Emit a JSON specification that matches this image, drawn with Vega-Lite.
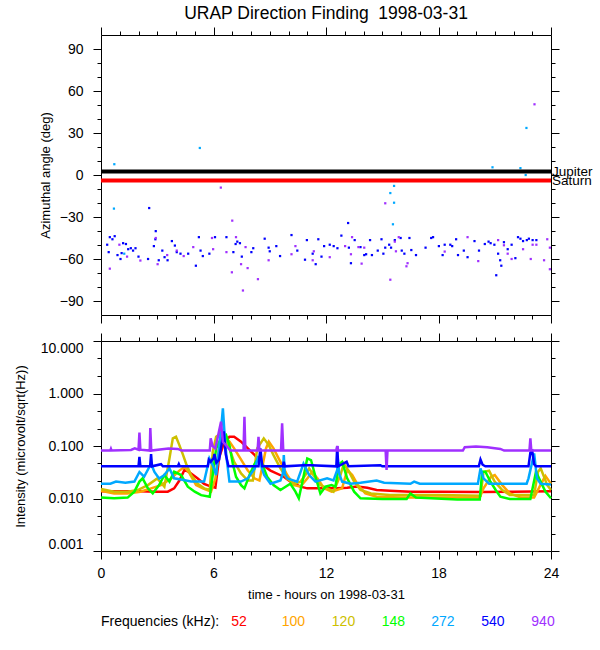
{
  "$schema": "https://vega.github.io/schema/vega-lite/v6.json",
  "padding": {"left": 14, "top": 5, "right": 5, "bottom": 5},
  "spacing": 8,
  "datasets": {
    "angles": [
      {"t":0.33,"a":-49.8,"f":"540"},{"t":0.41,"a":-55.1,"f":"540"},{"t":0.47,"a":-44.4,"f":"540"},{"t":0.61,"a":-45.9,"f":"540"},{"t":0.73,"a":-43.7,"f":"540"},{"t":0.88,"a":-57.2,"f":"540"},{"t":1.04,"a":-60.0,"f":"540"},{"t":1.10,"a":-55.8,"f":"540"},{"t":1.18,"a":-48.7,"f":"540"},{"t":1.33,"a":-49.3,"f":"540"},{"t":1.45,"a":-53.0,"f":"540"},{"t":1.59,"a":-52.3,"f":"540"},{"t":1.71,"a":-54.0,"f":"540"},{"t":1.84,"a":-52.3,"f":"540"},{"t":2.0,"a":-58.3,"f":"540"},{"t":2.51,"a":-60.0,"f":"540"},{"t":2.57,"a":-23.6,"f":"540"},{"t":2.82,"a":-50.8,"f":"540"},{"t":2.90,"a":-45.9,"f":"540"},{"t":2.92,"a":-40.1,"f":"540"},{"t":3.08,"a":-60.9,"f":"540"},{"t":3.27,"a":-54.0,"f":"540"},{"t":3.39,"a":-58.7,"f":"540"},{"t":3.55,"a":-60.9,"f":"540"},{"t":3.78,"a":-47.2,"f":"540"},{"t":3.94,"a":-50.4,"f":"540"},{"t":4.04,"a":-55.1,"f":"540"},{"t":4.24,"a":-56.2,"f":"540"},{"t":4.65,"a":-56.2,"f":"540"},{"t":5.06,"a":-64.8,"f":"540"},{"t":5.22,"a":-44.4,"f":"540"},{"t":5.31,"a":-54.0,"f":"540"},{"t":5.43,"a":-57.9,"f":"540"},{"t":5.78,"a":-56.2,"f":"540"},{"t":6.08,"a":-44.4,"f":"540"},{"t":6.69,"a":-44.4,"f":"540"},{"t":7.06,"a":-55.1,"f":"540"},{"t":7.18,"a":-49.3,"f":"540"},{"t":7.27,"a":-47.6,"f":"540"},{"t":7.41,"a":-48.7,"f":"540"},{"t":7.51,"a":-58.3,"f":"540"},{"t":8.02,"a":-55.1,"f":"540"},{"t":8.12,"a":-52.3,"f":"540"},{"t":8.73,"a":-45.5,"f":"540"},{"t":8.94,"a":-51.9,"f":"540"},{"t":9.0,"a":-54.5,"f":"540"},{"t":9.35,"a":-50.8,"f":"540"},{"t":9.55,"a":-57.9,"f":"540"},{"t":10.16,"a":-42.9,"f":"540"},{"t":10.47,"a":-54.0,"f":"540"},{"t":10.88,"a":-60.5,"f":"540"},{"t":10.98,"a":-46.5,"f":"540"},{"t":11.29,"a":-56.2,"f":"540"},{"t":11.45,"a":-63.7,"f":"540"},{"t":11.59,"a":-45.9,"f":"540"},{"t":11.76,"a":-58.3,"f":"540"},{"t":11.9,"a":-50.8,"f":"540"},{"t":12.2,"a":-49.8,"f":"540"},{"t":12.41,"a":-50.8,"f":"540"},{"t":12.61,"a":-52.3,"f":"540"},{"t":12.82,"a":-43.3,"f":"540"},{"t":13.18,"a":-34.3,"f":"540"},{"t":13.22,"a":-51.9,"f":"540"},{"t":13.33,"a":-63.0,"f":"540"},{"t":13.53,"a":-46.5,"f":"540"},{"t":13.84,"a":-51.5,"f":"540"},{"t":14.04,"a":-57.2,"f":"540"},{"t":14.14,"a":-56.6,"f":"540"},{"t":14.35,"a":-46.5,"f":"540"},{"t":14.45,"a":-57.2,"f":"540"},{"t":14.76,"a":-54.0,"f":"540"},{"t":14.96,"a":-45.9,"f":"540"},{"t":15.06,"a":-56.2,"f":"540"},{"t":15.16,"a":-51.9,"f":"540"},{"t":15.37,"a":-49.8,"f":"540"},{"t":15.47,"a":-51.9,"f":"540"},{"t":15.67,"a":-46.5,"f":"540"},{"t":15.98,"a":-45.0,"f":"540"},{"t":16.04,"a":-54.0,"f":"540"},{"t":16.18,"a":-56.2,"f":"540"},{"t":16.45,"a":-45.0,"f":"540"},{"t":16.55,"a":-53.6,"f":"540"},{"t":16.8,"a":-57.2,"f":"540"},{"t":17.31,"a":-51.9,"f":"540"},{"t":17.61,"a":-45.0,"f":"540"},{"t":17.71,"a":-44.4,"f":"540"},{"t":18.02,"a":-50.8,"f":"540"},{"t":18.22,"a":-57.2,"f":"540"},{"t":18.33,"a":-49.8,"f":"540"},{"t":18.63,"a":-49.8,"f":"540"},{"t":18.73,"a":-50.8,"f":"540"},{"t":18.94,"a":-45.9,"f":"540"},{"t":19.04,"a":-57.2,"f":"540"},{"t":19.35,"a":-54.0,"f":"540"},{"t":19.55,"a":-58.7,"f":"540"},{"t":19.92,"a":-47.2,"f":"540"},{"t":20.16,"a":-54.0,"f":"540"},{"t":20.47,"a":-49.3,"f":"540"},{"t":20.67,"a":-47.6,"f":"540"},{"t":20.78,"a":-48.7,"f":"540"},{"t":20.98,"a":-49.8,"f":"540"},{"t":21.08,"a":-71.6,"f":"540"},{"t":21.18,"a":-56.2,"f":"540"},{"t":21.29,"a":-60.9,"f":"540"},{"t":21.35,"a":-64.8,"f":"540"},{"t":21.49,"a":-48.0,"f":"540"},{"t":21.69,"a":-53.0,"f":"540"},{"t":21.9,"a":-49.8,"f":"540"},{"t":22.1,"a":-59.4,"f":"540"},{"t":22.24,"a":-44.4,"f":"540"},{"t":22.37,"a":-45.5,"f":"540"},{"t":22.51,"a":-47.2,"f":"540"},{"t":22.71,"a":-46.5,"f":"540"},{"t":22.82,"a":-45.5,"f":"540"},{"t":23.02,"a":-46.5,"f":"540"},{"t":23.22,"a":-46.5,"f":"540"},
      {"t":0.47,"a":-66.9,"f":"940"},{"t":0.98,"a":-49.8,"f":"940"},{"t":1.39,"a":-58.3,"f":"940"},{"t":2.1,"a":-61.1,"f":"940"},{"t":2.92,"a":-45.0,"f":"940"},{"t":3.02,"a":-63.7,"f":"940"},{"t":3.53,"a":-57.2,"f":"940"},{"t":4.04,"a":-54.0,"f":"940"},{"t":4.41,"a":-57.9,"f":"940"},{"t":4.92,"a":-51.5,"f":"940"},{"t":5.92,"a":-45.0,"f":"940"},{"t":5.98,"a":-53.0,"f":"940"},{"t":6.39,"a":-9.0,"f":"940"},{"t":6.69,"a":-55.1,"f":"940"},{"t":7.0,"a":-32.6,"f":"940"},{"t":6.98,"a":-69.5,"f":"940"},{"t":7.2,"a":-44.4,"f":"940"},{"t":7.47,"a":-63.7,"f":"940"},{"t":7.57,"a":-82.5,"f":"940"},{"t":7.71,"a":-51.5,"f":"940"},{"t":7.82,"a":-66.5,"f":"940"},{"t":8.37,"a":-74.4,"f":"940"},{"t":8.94,"a":-60.9,"f":"940"},{"t":10.16,"a":-56.6,"f":"940"},{"t":10.37,"a":-50.8,"f":"940"},{"t":11.29,"a":-60.9,"f":"940"},{"t":11.35,"a":-54.5,"f":"940"},{"t":12.2,"a":-58.7,"f":"940"},{"t":13.02,"a":-50.8,"f":"940"},{"t":13.33,"a":-56.6,"f":"940"},{"t":13.39,"a":-44.4,"f":"940"},{"t":13.73,"a":-51.5,"f":"940"},{"t":13.9,"a":-63.3,"f":"940"},{"t":14.04,"a":-51.9,"f":"940"},{"t":15.16,"a":-20.2,"f":"940"},{"t":15.43,"a":-74.8,"f":"940"},{"t":15.67,"a":-47.6,"f":"940"},{"t":15.73,"a":-54.5,"f":"940"},{"t":15.88,"a":-44.4,"f":"940"},{"t":16.29,"a":-65.2,"f":"940"},{"t":16.35,"a":-63.0,"f":"940"},{"t":18.33,"a":-54.7,"f":"940"},{"t":19.55,"a":-44.4,"f":"940"},{"t":20.12,"a":-61.5,"f":"940"},{"t":21.18,"a":-46.5,"f":"940"},{"t":21.49,"a":-50.2,"f":"940"},{"t":21.69,"a":-56.2,"f":"940"},{"t":21.9,"a":-60.0,"f":"940"},{"t":22.51,"a":-53.0,"f":"940"},{"t":22.92,"a":-60.0,"f":"940"},{"t":23.12,"a":50.5,"f":"940"},{"t":23.02,"a":-49.8,"f":"940"},{"t":23.22,"a":-49.8,"f":"940"},{"t":23.63,"a":-60.9,"f":"940"},{"t":23.8,"a":-45.9,"f":"940"},{"t":23.94,"a":-67.3,"f":"940"},{"t":23.94,"a":-51.9,"f":"940"},
      {"t":0.71,"a":7.7,"f":"272"},{"t":0.69,"a":-24.0,"f":"272"},{"t":1.24,"a":-56.2,"f":"272"},{"t":5.27,"a":19.3,"f":"272"},{"t":15.43,"a":-12.9,"f":"272"},{"t":15.63,"a":-7.8,"f":"272"},{"t":15.63,"a":-19.8,"f":"272"},{"t":15.57,"a":-35.2,"f":"272"},{"t":20.88,"a":5.5,"f":"272"},{"t":22.37,"a":4.9,"f":"272"},{"t":22.65,"a":0.0,"f":"272"},{"t":22.69,"a":33.6,"f":"272"}
    ],
    "planets": [
      {"planet": "Jupiter", "angle": 2.5, "c": "black"},
      {"planet": "Saturn", "angle": -4, "c": "red"}
    ],
    "flux": [
      {"t":0,"v":0.0138,"f":"52"},{"t":1,"v":0.0138,"f":"52"},{"t":2,"v":0.0137,"f":"52"},{"t":3,"v":0.0135,"f":"52"},{"t":3.56,"v":0.0135,"f":"52"},{"t":3.9,"v":0.0156,"f":"52"},{"t":4.18,"v":0.022,"f":"52"},{"t":4.45,"v":0.035,"f":"52"},{"t":4.7,"v":0.032,"f":"52"},{"t":5.16,"v":0.024,"f":"52"},{"t":5.5,"v":0.019,"f":"52"},{"t":5.87,"v":0.0168,"f":"52"},{"t":6.1,"v":0.016,"f":"52"},{"t":6.3,"v":0.06,"f":"52"},{"t":6.58,"v":0.12,"f":"52"},{"t":6.85,"v":0.15,"f":"52"},{"t":7.1,"v":0.15,"f":"52"},{"t":7.47,"v":0.121,"f":"52"},{"t":7.83,"v":0.09,"f":"52"},{"t":8.2,"v":0.067,"f":"52"},{"t":8.5,"v":0.047,"f":"52"},{"t":9.04,"v":0.034,"f":"52"},{"t":9.75,"v":0.026,"f":"52"},{"t":10.1,"v":0.021,"f":"52"},{"t":10.64,"v":0.0168,"f":"52"},{"t":11,"v":0.0156,"f":"52"},{"t":12,"v":0.0156,"f":"52"},{"t":12.6,"v":0.0156,"f":"52"},{"t":13.13,"v":0.016,"f":"52"},{"t":13.66,"v":0.017,"f":"52"},{"t":14.2,"v":0.016,"f":"52"},{"t":14.7,"v":0.0145,"f":"52"},{"t":15.4,"v":0.014,"f":"52"},{"t":16.5,"v":0.0135,"f":"52"},{"t":18,"v":0.0135,"f":"52"},{"t":20.24,"v":0.0133,"f":"52"},{"t":22,"v":0.0135,"f":"52"},{"t":24,"v":0.0138,"f":"52"},
      {"t":0,"v":0.014,"f":"100"},{"t":0.7,"v":0.0125,"f":"100"},{"t":1.4,"v":0.0125,"f":"100"},{"t":2.1,"v":0.0135,"f":"100"},{"t":2.67,"v":0.0156,"f":"100"},{"t":3.2,"v":0.018,"f":"100"},{"t":3.74,"v":0.024,"f":"100"},{"t":4.18,"v":0.034,"f":"100"},{"t":4.45,"v":0.04,"f":"100"},{"t":4.7,"v":0.031,"f":"100"},{"t":5.07,"v":0.018,"f":"100"},{"t":5.43,"v":0.0156,"f":"100"},{"t":5.87,"v":0.0135,"f":"100"},{"t":6.1,"v":0.024,"f":"100"},{"t":6.32,"v":0.11,"f":"100"},{"t":6.58,"v":0.15,"f":"100"},{"t":6.85,"v":0.121,"f":"100"},{"t":7.1,"v":0.09,"f":"100"},{"t":7.47,"v":0.055,"f":"100"},{"t":7.83,"v":0.034,"f":"100"},{"t":8.2,"v":0.024,"f":"100"},{"t":8.45,"v":0.022,"f":"100"},{"t":8.6,"v":0.04,"f":"100"},{"t":8.8,"v":0.09,"f":"100"},{"t":8.95,"v":0.121,"f":"100"},{"t":9.2,"v":0.09,"f":"100"},{"t":9.57,"v":0.05,"f":"100"},{"t":9.93,"v":0.028,"f":"100"},{"t":10.3,"v":0.018,"f":"100"},{"t":10.64,"v":0.0168,"f":"100"},{"t":11,"v":0.024,"f":"100"},{"t":11.26,"v":0.032,"f":"100"},{"t":11.55,"v":0.024,"f":"100"},{"t":11.9,"v":0.0156,"f":"100"},{"t":12.3,"v":0.0135,"f":"100"},{"t":12.86,"v":0.0156,"f":"100"},{"t":13.13,"v":0.035,"f":"100"},{"t":13.4,"v":0.028,"f":"100"},{"t":13.7,"v":0.018,"f":"100"},{"t":14.1,"v":0.0125,"f":"100"},{"t":14.7,"v":0.0108,"f":"100"},{"t":16,"v":0.0104,"f":"100"},{"t":18,"v":0.0104,"f":"100"},{"t":20.2,"v":0.0104,"f":"100"},{"t":20.4,"v":0.0156,"f":"100"},{"t":20.8,"v":0.026,"f":"100"},{"t":21,"v":0.028,"f":"100"},{"t":21.4,"v":0.018,"f":"100"},{"t":21.8,"v":0.0125,"f":"100"},{"t":22.4,"v":0.0104,"f":"100"},{"t":23.1,"v":0.0104,"f":"100"},{"t":23.4,"v":0.017,"f":"100"},{"t":23.7,"v":0.027,"f":"100"},{"t":24,"v":0.019,"f":"100"},
      {"t":0,"v":0.0152,"f":"120"},{"t":0.7,"v":0.0135,"f":"120"},{"t":1.42,"v":0.0135,"f":"120"},{"t":1.96,"v":0.0145,"f":"120"},{"t":2.5,"v":0.018,"f":"120"},{"t":3.0,"v":0.024,"f":"120"},{"t":3.38,"v":0.0168,"f":"120"},{"t":3.65,"v":0.058,"f":"120"},{"t":3.83,"v":0.14,"f":"120"},{"t":4.0,"v":0.15,"f":"120"},{"t":4.18,"v":0.104,"f":"120"},{"t":4.36,"v":0.07,"f":"120"},{"t":4.54,"v":0.046,"f":"120"},{"t":4.8,"v":0.028,"f":"120"},{"t":5.16,"v":0.019,"f":"120"},{"t":5.5,"v":0.0156,"f":"120"},{"t":5.8,"v":0.0145,"f":"120"},{"t":5.96,"v":0.078,"f":"120"},{"t":6.14,"v":0.15,"f":"120"},{"t":6.4,"v":0.175,"f":"120"},{"t":6.58,"v":0.14,"f":"120"},{"t":6.85,"v":0.09,"f":"120"},{"t":7.1,"v":0.05,"f":"120"},{"t":7.47,"v":0.03,"f":"120"},{"t":7.83,"v":0.022,"f":"120"},{"t":8.1,"v":0.022,"f":"120"},{"t":8.33,"v":0.09,"f":"120"},{"t":8.68,"v":0.14,"f":"120"},{"t":8.95,"v":0.104,"f":"120"},{"t":9.2,"v":0.067,"f":"120"},{"t":9.57,"v":0.0375,"f":"120"},{"t":9.93,"v":0.024,"f":"120"},{"t":10.3,"v":0.019,"f":"120"},{"t":10.64,"v":0.0209,"f":"120"},{"t":10.9,"v":0.028,"f":"120"},{"t":11.1,"v":0.0375,"f":"120"},{"t":11.35,"v":0.027,"f":"120"},{"t":11.7,"v":0.018,"f":"120"},{"t":12.06,"v":0.0156,"f":"120"},{"t":12.4,"v":0.0135,"f":"120"},{"t":12.77,"v":0.028,"f":"120"},{"t":12.95,"v":0.046,"f":"120"},{"t":13.2,"v":0.034,"f":"120"},{"t":13.5,"v":0.0209,"f":"120"},{"t":13.84,"v":0.0145,"f":"120"},{"t":14.4,"v":0.0125,"f":"120"},{"t":15.4,"v":0.0116,"f":"120"},{"t":18,"v":0.0116,"f":"120"},{"t":20.24,"v":0.0113,"f":"120"},{"t":20.4,"v":0.032,"f":"120"},{"t":20.7,"v":0.034,"f":"120"},{"t":21,"v":0.0209,"f":"120"},{"t":21.4,"v":0.0145,"f":"120"},{"t":21.8,"v":0.0116,"f":"120"},{"t":23.1,"v":0.0116,"f":"120"},{"t":23.3,"v":0.032,"f":"120"},{"t":23.45,"v":0.0375,"f":"120"},{"t":23.8,"v":0.018,"f":"120"},{"t":24,"v":0.0145,"f":"120"},
      {"t":0,"v":0.0104,"f":"148"},{"t":0.7,"v":0.0101,"f":"148"},{"t":1.42,"v":0.0104,"f":"148"},{"t":1.78,"v":0.0135,"f":"148"},{"t":2.05,"v":0.021,"f":"148"},{"t":2.22,"v":0.0242,"f":"148"},{"t":2.5,"v":0.0156,"f":"148"},{"t":2.76,"v":0.0125,"f":"148"},{"t":3.1,"v":0.018,"f":"148"},{"t":3.38,"v":0.028,"f":"148"},{"t":3.65,"v":0.021,"f":"148"},{"t":3.9,"v":0.0324,"f":"148"},{"t":4.27,"v":0.028,"f":"148"},{"t":4.63,"v":0.0168,"f":"148"},{"t":5.0,"v":0.0135,"f":"148"},{"t":5.34,"v":0.0116,"f":"148"},{"t":5.8,"v":0.0108,"f":"148"},{"t":5.96,"v":0.028,"f":"148"},{"t":6.14,"v":0.09,"f":"148"},{"t":6.4,"v":0.14,"f":"148"},{"t":6.67,"v":0.162,"f":"148"},{"t":6.85,"v":0.104,"f":"148"},{"t":7.03,"v":0.046,"f":"148"},{"t":7.2,"v":0.026,"f":"148"},{"t":7.47,"v":0.018,"f":"148"},{"t":7.65,"v":0.0156,"f":"148"},{"t":7.92,"v":0.028,"f":"148"},{"t":8.2,"v":0.046,"f":"148"},{"t":8.45,"v":0.062,"f":"148"},{"t":8.6,"v":0.045,"f":"148"},{"t":8.86,"v":0.026,"f":"148"},{"t":9.2,"v":0.018,"f":"148"},{"t":9.57,"v":0.0145,"f":"148"},{"t":10.1,"v":0.0191,"f":"148"},{"t":10.37,"v":0.0135,"f":"148"},{"t":10.55,"v":0.0101,"f":"148"},{"t":10.8,"v":0.026,"f":"148"},{"t":11.0,"v":0.058,"f":"148"},{"t":11.2,"v":0.054,"f":"148"},{"t":11.44,"v":0.026,"f":"148"},{"t":11.7,"v":0.0125,"f":"148"},{"t":11.97,"v":0.0168,"f":"148"},{"t":12.3,"v":0.018,"f":"148"},{"t":12.5,"v":0.0168,"f":"148"},{"t":12.7,"v":0.045,"f":"148"},{"t":12.86,"v":0.05,"f":"148"},{"t":13.13,"v":0.0242,"f":"148"},{"t":13.5,"v":0.0135,"f":"148"},{"t":13.84,"v":0.0101,"f":"148"},{"t":15,"v":0.0098,"f":"148"},{"t":16.3,"v":0.0098,"f":"148"},{"t":16.5,"v":0.0125,"f":"148"},{"t":16.8,"v":0.0104,"f":"148"},{"t":17.6,"v":0.0101,"f":"148"},{"t":19,"v":0.0096,"f":"148"},{"t":20.2,"v":0.0096,"f":"148"},{"t":20.33,"v":0.0324,"f":"148"},{"t":20.5,"v":0.0324,"f":"148"},{"t":20.77,"v":0.0209,"f":"148"},{"t":21.05,"v":0.0145,"f":"148"},{"t":21.3,"v":0.0108,"f":"148"},{"t":21.8,"v":0.0098,"f":"148"},{"t":22.9,"v":0.0098,"f":"148"},{"t":23.2,"v":0.0324,"f":"148"},{"t":23.45,"v":0.0209,"f":"148"},{"t":23.7,"v":0.0135,"f":"148"},{"t":24,"v":0.0101,"f":"148"},
      {"t":0,"v":0.0191,"f":"272"},{"t":0.5,"v":0.0191,"f":"272"},{"t":0.8,"v":0.021,"f":"272"},{"t":1.3,"v":0.02,"f":"272"},{"t":1.78,"v":0.021,"f":"272"},{"t":2.05,"v":0.032,"f":"272"},{"t":2.3,"v":0.026,"f":"272"},{"t":2.67,"v":0.046,"f":"272"},{"t":2.85,"v":0.032,"f":"272"},{"t":3.1,"v":0.024,"f":"272"},{"t":3.38,"v":0.028,"f":"272"},{"t":3.65,"v":0.0375,"f":"272"},{"t":3.9,"v":0.0242,"f":"272"},{"t":4.27,"v":0.023,"f":"272"},{"t":4.8,"v":0.021,"f":"272"},{"t":5.5,"v":0.021,"f":"272"},{"t":5.78,"v":0.058,"f":"272"},{"t":6.0,"v":0.04,"f":"272"},{"t":6.14,"v":0.028,"f":"272"},{"t":6.4,"v":0.2,"f":"272"},{"t":6.5,"v":0.52,"f":"272"},{"t":6.6,"v":0.15,"f":"272"},{"t":6.7,"v":0.058,"f":"272"},{"t":6.85,"v":0.021,"f":"272"},{"t":7.47,"v":0.021,"f":"272"},{"t":7.83,"v":0.0242,"f":"272"},{"t":8.2,"v":0.0375,"f":"272"},{"t":8.36,"v":0.058,"f":"272"},{"t":8.5,"v":0.046,"f":"272"},{"t":8.7,"v":0.028,"f":"272"},{"t":9.04,"v":0.0191,"f":"272"},{"t":9.57,"v":0.022,"f":"272"},{"t":9.7,"v":0.03,"f":"272"},{"t":9.75,"v":0.067,"f":"272"},{"t":9.8,"v":0.03,"f":"272"},{"t":9.93,"v":0.0242,"f":"272"},{"t":10.46,"v":0.0209,"f":"272"},{"t":10.8,"v":0.046,"f":"272"},{"t":11.1,"v":0.028,"f":"272"},{"t":11.44,"v":0.0209,"f":"272"},{"t":12.06,"v":0.0242,"f":"272"},{"t":12.4,"v":0.022,"f":"272"},{"t":12.6,"v":0.035,"f":"272"},{"t":12.63,"v":0.058,"f":"272"},{"t":12.7,"v":0.03,"f":"272"},{"t":12.86,"v":0.021,"f":"272"},{"t":13.3,"v":0.0191,"f":"272"},{"t":13.84,"v":0.02,"f":"272"},{"t":14.7,"v":0.022,"f":"272"},{"t":15.1,"v":0.02,"f":"272"},{"t":16.5,"v":0.0191,"f":"272"},{"t":16.7,"v":0.021,"f":"272"},{"t":17,"v":0.0191,"f":"272"},{"t":20.1,"v":0.0191,"f":"272"},{"t":20.24,"v":0.0375,"f":"272"},{"t":20.4,"v":0.0242,"f":"272"},{"t":20.7,"v":0.0191,"f":"272"},{"t":22.7,"v":0.0191,"f":"272"},{"t":22.8,"v":0.0242,"f":"272"},{"t":23.1,"v":0.072,"f":"272"},{"t":23.25,"v":0.0242,"f":"272"},{"t":23.45,"v":0.0191,"f":"272"},{"t":24,"v":0.0185,"f":"272"},
      {"t":0,"v":0.041,"f":"540"},{"t":2.0,"v":0.041,"f":"540"},{"t":2.05,"v":0.062,"f":"540"},{"t":2.1,"v":0.041,"f":"540"},{"t":2.62,"v":0.041,"f":"540"},{"t":2.67,"v":0.07,"f":"540"},{"t":2.72,"v":0.041,"f":"540"},{"t":3.2,"v":0.045,"f":"540"},{"t":3.3,"v":0.041,"f":"540"},{"t":4.1,"v":0.041,"f":"540"},{"t":4.15,"v":0.045,"f":"540"},{"t":4.2,"v":0.041,"f":"540"},{"t":5.7,"v":0.041,"f":"540"},{"t":5.75,"v":0.055,"f":"540"},{"t":5.85,"v":0.05,"f":"540"},{"t":6.0,"v":0.058,"f":"540"},{"t":6.05,"v":0.07,"f":"540"},{"t":6.15,"v":0.048,"f":"540"},{"t":6.3,"v":0.055,"f":"540"},{"t":6.45,"v":0.12,"f":"540"},{"t":6.55,"v":0.19,"f":"540"},{"t":6.65,"v":0.07,"f":"540"},{"t":6.8,"v":0.041,"f":"540"},{"t":8.4,"v":0.041,"f":"540"},{"t":8.5,"v":0.09,"f":"540"},{"t":8.6,"v":0.041,"f":"540"},{"t":9.7,"v":0.041,"f":"540"},{"t":9.75,"v":0.05,"f":"540"},{"t":9.8,"v":0.041,"f":"540"},{"t":10.8,"v":0.043,"f":"540"},{"t":11.2,"v":0.043,"f":"540"},{"t":12.55,"v":0.041,"f":"540"},{"t":12.6,"v":0.1,"f":"540"},{"t":12.65,"v":0.041,"f":"540"},{"t":13.1,"v":0.05,"f":"540"},{"t":13.2,"v":0.041,"f":"540"},{"t":14.9,"v":0.043,"f":"540"},{"t":15.0,"v":0.041,"f":"540"},{"t":20.15,"v":0.041,"f":"540"},{"t":20.24,"v":0.055,"f":"540"},{"t":20.35,"v":0.044,"f":"540"},{"t":20.5,"v":0.041,"f":"540"},{"t":22.8,"v":0.041,"f":"540"},{"t":22.9,"v":0.075,"f":"540"},{"t":23.0,"v":0.08,"f":"540"},{"t":23.1,"v":0.045,"f":"540"},{"t":23.2,"v":0.041,"f":"540"},{"t":24,"v":0.041,"f":"540"},
      {"t":0,"v":0.082,"f":"940"},{"t":0.5,"v":0.082,"f":"940"},{"t":0.53,"v":0.088,"f":"940"},{"t":0.56,"v":0.082,"f":"940"},{"t":1.6,"v":0.084,"f":"940"},{"t":1.8,"v":0.09,"f":"940"},{"t":2.0,"v":0.085,"f":"940"},{"t":2.05,"v":0.18,"f":"940"},{"t":2.1,"v":0.085,"f":"940"},{"t":2.6,"v":0.082,"f":"940"},{"t":2.63,"v":0.22,"f":"940"},{"t":2.68,"v":0.082,"f":"940"},{"t":3.6,"v":0.09,"f":"940"},{"t":4.1,"v":0.088,"f":"940"},{"t":4.3,"v":0.082,"f":"940"},{"t":5.8,"v":0.082,"f":"940"},{"t":5.85,"v":0.14,"f":"940"},{"t":5.95,"v":0.1,"f":"940"},{"t":6.1,"v":0.09,"f":"940"},{"t":6.4,"v":0.29,"f":"940"},{"t":6.5,"v":0.12,"f":"940"},{"t":6.7,"v":0.1,"f":"940"},{"t":6.9,"v":0.082,"f":"940"},{"t":7.6,"v":0.082,"f":"940"},{"t":7.65,"v":0.36,"f":"940"},{"t":7.7,"v":0.082,"f":"940"},{"t":8.35,"v":0.082,"f":"940"},{"t":8.4,"v":0.15,"f":"940"},{"t":8.45,"v":0.082,"f":"940"},{"t":9.6,"v":0.082,"f":"940"},{"t":9.66,"v":0.27,"f":"940"},{"t":9.72,"v":0.082,"f":"940"},{"t":12.55,"v":0.082,"f":"940"},{"t":12.6,"v":0.1,"f":"940"},{"t":12.65,"v":0.082,"f":"940"},{"t":15.18,"v":0.082,"f":"940"},{"t":15.23,"v":0.035,"f":"940"},{"t":15.28,"v":0.082,"f":"940"},{"t":19.3,"v":0.082,"f":"940"},{"t":19.4,"v":0.095,"f":"940"},{"t":20.0,"v":0.098,"f":"940"},{"t":20.6,"v":0.095,"f":"940"},{"t":21.3,"v":0.088,"f":"940"},{"t":21.5,"v":0.082,"f":"940"},{"t":22.85,"v":0.082,"f":"940"},{"t":22.9,"v":0.14,"f":"940"},{"t":22.95,"v":0.082,"f":"940"},{"t":24,"v":0.082,"f":"940"}
    ],
    "legend": [
      {"label": "52", "pos": 6.94, "f": "52"},
      {"label": "100", "pos": 9.64, "f": "100"},
      {"label": "120", "pos": 12.31, "f": "120"},
      {"label": "148", "pos": 14.97, "f": "148"},
      {"label": "272", "pos": 17.61, "f": "272"},
      {"label": "540", "pos": 20.28, "f": "540"},
      {"label": "940", "pos": 22.95, "f": "940"}
    ]
  },
  "vconcat": [
    {
      "width": 450,
      "height": 280,
      "title": {"text": "URAP Direction Finding \u00a01998-03-31", "frame": "group", "anchor": "middle", "fontSize": 17.5, "font": "Liberation Sans", "fontWeight": "normal", "color": "black", "offset": 4},
      "layer": [
        {
          "data": {"name": "angles"},
          "mark": {"type": "square", "size": 5, "opacity": 1},
          "encoding": {
            "x": {"field": "t", "type": "quantitative", "scale": {"domain": [0, 24]},
              "axis": {"orient": "bottom", "title": null, "labels": false, "values": [0,1,2,3,4,5,6,7,8,9,10,11,12,13,14,15,16,17,18,19,20,21,22,23,24],
                "tickSize": {"condition": {"test": "datum.value % 6 === 0", "value": 8}, "value": 4}}},
            "y": {"field": "a", "type": "quantitative", "scale": {"domain": [-90, 90]},
              "axis": {"orient": "left", "title": "Azimuthal angle (deg)", "titlePadding": 7, "values": [-90,-80,-70,-60,-50,-40,-30,-20,-10,0,10,20,30,40,50,60,70,80,90],
                "labelExpr": "datum.value % 30 === 0 ? datum.label : ''", "labelFlush": true,
                "tickSize": {"condition": {"test": "datum.value % 30 === 0", "value": 8}, "value": 4}}},
            "color": {"field": "f", "type": "nominal", "legend": null,
              "scale": {"domain": ["52","100","120","148","272","540","940"], "range": ["#ff0000","#ffa500","#cdc000","#00ff00","#00a8ff","#0000ff","#a030ff"]}}
          }
        },
        {
          "data": {"name": "planets"},
          "mark": {"type": "rule", "strokeWidth": 4},
          "encoding": {
            "x": {"datum": 0, "type": "quantitative", "scale": {"domain": [0, 24]},
              "axis": {"orient": "top", "title": null, "labels": false, "values": [0,1,2,3,4,5,6,7,8,9,10,11,12,13,14,15,16,17,18,19,20,21,22,23,24],
                "tickSize": {"condition": {"test": "datum.value % 6 === 0", "value": 8}, "value": 4}}},
            "x2": {"datum": 24},
            "y": {"field": "angle", "type": "quantitative", "scale": {"domain": [-90, 90]},
              "axis": {"orient": "right", "title": null, "labels": false, "values": [-90,-80,-70,-60,-50,-40,-30,-20,-10,0,10,20,30,40,50,60,70,80,90],
                "tickSize": {"condition": {"test": "datum.value % 30 === 0", "value": 8}, "value": 4}}},
            "stroke": {"field": "c", "type": "nominal", "scale": null}
          }
        },
        {
          "data": {"name": "planets"},
          "mark": {"type": "text", "align": "left", "baseline": "middle", "dx": 1, "fontSize": 13.5, "font": "Liberation Sans", "color": "black"},
          "encoding": {
            "x": {"datum": 24, "type": "quantitative", "axis": null},
            "y": {"field": "angle", "type": "quantitative", "axis": null},
            "text": {"field": "planet"}
          }
        }
      ],
      "resolve": {"axis": {"x": "independent", "y": "independent"}}
    },
    {
      "width": 450,
      "height": 210,
      "layer": [
        {
          "data": {"name": "flux"},
          "transform": [{"filter": {"field": "f", "oneOf": ["52","100","120","148"]}}],
          "mark": {"type": "line", "strokeWidth": 2.5, "interpolate": "linear"},
          "encoding": {
            "x": {"field": "t", "type": "quantitative", "scale": {"domain": [0, 24]},
              "axis": {"orient": "bottom", "title": "time - hours on 1998-03-31", "values": [0,1,2,3,4,5,6,7,8,9,10,11,12,13,14,15,16,17,18,19,20,21,22,23,24],
                "labelExpr": "datum.value % 6 === 0 ? datum.label : ''", "labelFlush": false, "labelOverlap": false,
                "tickSize": {"condition": {"test": "datum.value % 6 === 0", "value": 8}, "value": 4}}},
            "y": {"field": "v", "type": "quantitative", "scale": {"type": "log", "domain": [0.001, 10]},
              "axis": {"orient": "left", "title": "Intensity (microvolt/sqrt(Hz))", "titlePadding": 13, "values": [0.001,0.00215443,0.00464159,0.01,0.0215443,0.0464159,0.1,0.215443,0.464159,1,2.15443,4.64159,10],
                "labelExpr": "abs(log(datum.value)/LN10 - round(log(datum.value)/LN10)) < 0.01 ? format(datum.value, '.3f') : ''", "labelFlush": true, "labelOverlap": false,
                "tickSize": {"condition": {"test": "abs(log(datum.value)/LN10 - round(log(datum.value)/LN10)) < 0.01", "value": 8}, "value": 4}}},
            "color": {"field": "f", "type": "nominal", "legend": null,
              "scale": {"domain": ["52","100","120","148","272","540","940"], "range": ["#ff0000","#ffa500","#cdc000","#00ff00","#00a8ff","#0000ff","#a030ff"]}}
          }
        },
        {
          "data": {"name": "flux"},
          "transform": [{"filter": {"field": "f", "oneOf": ["272","540","940"]}}],
          "mark": {"type": "line", "strokeWidth": 2.5, "interpolate": "linear"},
          "encoding": {
            "x": {"field": "t", "type": "quantitative", "scale": {"domain": [0, 24]},
              "axis": {"orient": "top", "title": null, "labels": false, "values": [0,1,2,3,4,5,6,7,8,9,10,11,12,13,14,15,16,17,18,19,20,21,22,23,24],
                "tickSize": {"condition": {"test": "datum.value % 6 === 0", "value": 8}, "value": 4}}},
            "y": {"field": "v", "type": "quantitative", "scale": {"type": "log", "domain": [0.001, 10]},
              "axis": {"orient": "right", "title": null, "labels": false, "values": [0.001,0.00215443,0.00464159,0.01,0.0215443,0.0464159,0.1,0.215443,0.464159,1,2.15443,4.64159,10],
                "tickSize": {"condition": {"test": "abs(log(datum.value)/LN10 - round(log(datum.value)/LN10)) < 0.01", "value": 8}, "value": 4}}},
            "color": {"field": "f", "type": "nominal", "legend": null}
          }
        }
      ],
      "resolve": {"axis": {"x": "independent", "y": "independent"}}
    },
    {
      "width": 450,
      "height": 26,
      "layer": [
        {
          "data": {"values": [{"label": "Frequencies (kHz):", "pos": 0}]},
          "mark": {"type": "text", "align": "left", "baseline": "middle", "fontSize": 14, "font": "Liberation Sans", "color": "black"},
          "encoding": {
            "x": {"field": "pos", "type": "quantitative", "scale": {"domain": [0, 24]}, "axis": null},
            "text": {"field": "label"}
          }
        },
        {
          "data": {"name": "legend"},
          "mark": {"type": "text", "align": "left", "baseline": "middle", "fontSize": 14, "font": "Liberation Sans"},
          "encoding": {
            "x": {"field": "pos", "type": "quantitative", "scale": {"domain": [0, 24]}, "axis": null},
            "text": {"field": "label"},
            "color": {"field": "f", "type": "nominal", "legend": null}
          }
        }
      ]
    }
  ],
  "config": {
    "view": {"stroke": null},
    "axis": {
      "grid": false,
      "domainColor": "black",
      "domainWidth": 1,
      "tickColor": "black",
      "tickWidth": 1,
      "labelFont": "Liberation Sans",
      "labelFontSize": 14,
      "labelColor": "black",
      "titleFont": "Liberation Sans",
      "titleFontSize": 13,
      "titleFontWeight": "normal",
      "titleColor": "black"
    },
    "axisY": {"labelPadding": 10},
    "axisX": {"labelPadding": 7, "titlePadding": 8}
  }
}
